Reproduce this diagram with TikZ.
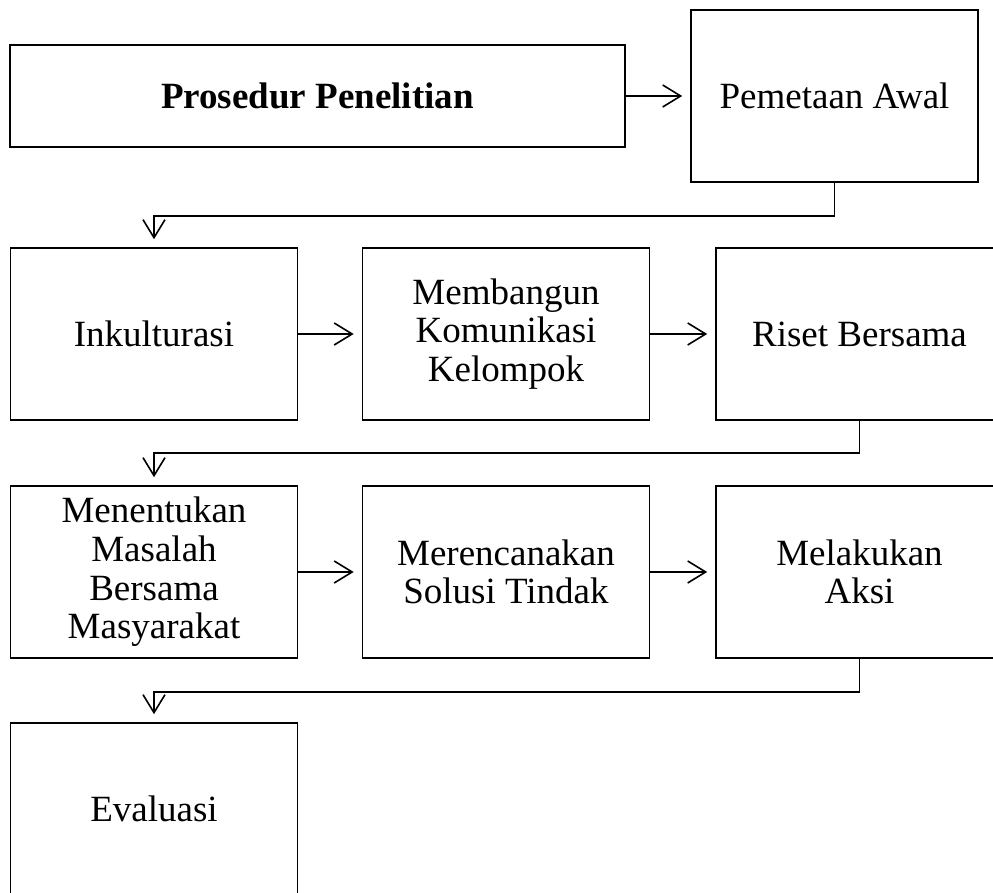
\documentclass[tikz,border=0pt]{standalone}
\usepackage{fontspec}
\setmainfont{Liberation Serif}
\usetikzlibrary{arrows.meta}
\tikzset{
  box/.style={draw, line width=0.8pt, align=center, inner sep=0pt,
    minimum width=143.5pt, minimum height=86pt,
    font=\fontsize{18.5}{19.3}\selectfont},
  arr/.style={line width=0.8pt, -{Straight Barb[length=9pt,width=11pt]},
    shorten >=4pt}
}
\begin{document}
\begin{tikzpicture}[x=0.5pt,y=-0.5pt]
    \useasboundingbox (0,0) rectangle (993,893);
    \clip (0,0) rectangle (993,893);

    % Nodes
    \node[box, minimum width=307.5pt, minimum height=51pt,
      font=\fontsize{18.5}{19.3}\selectfont\bfseries] (prosedur) at (317.5,96) {Prosedur Penelitian};
    \node[box] (awal) at (834.5,96) {Pemetaan Awal};
    \node[box] (inkul) at (154,334) {Inkulturasi};
    \node[box] (komun) at (506,334) {Membangun\\Komunikasi\\Kelompok};
    \node[box] (riset) at (859.5,334) {Riset Bersama};
    \node[box] (masalah) at (154,572) {Menentukan\\Masalah\\Bersama\\Masyarakat};
    \node[box] (solusi) at (506,572) {Merencanakan\\Solusi Tindak};
    \node[box] (aksi) at (859.5,572) {Melakukan\\Aksi};
    \node[box] (evaluasi) at (154,809) {Evaluasi};

    % Edges
    \draw[arr] (prosedur) -- (awal);
    \draw[arr] (awal.south) -- ++(0,33) -| (inkul.north);
    \draw[arr] (inkul) -- (komun);
    \draw[arr] (komun) -- (riset);
    \draw[arr] (riset.south) -- ++(0,32) -| (masalah.north);
    \draw[arr] (masalah) -- (solusi);
    \draw[arr] (solusi) -- (aksi);
    \draw[arr] (aksi.south) -- ++(0,33) -| (evaluasi.north);
\end{tikzpicture}
\end{document}
